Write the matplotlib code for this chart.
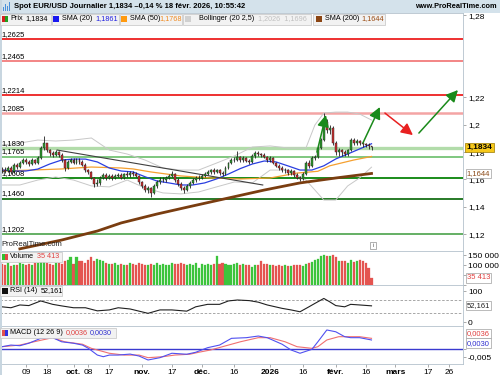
import numpy as np
import pandas as pd
import matplotlib
matplotlib.use('Agg')
import matplotlib.pyplot as plt
from matplotlib.patches import Rectangle

plt.rcParams['font.family'] = ['Liberation Sans', 'DejaVu Sans']

# ---- data (daily EUR/USD, first bar 28 Aug 2025) ----
first_day = '2025-08-28'
first_open = 1.1680
closes = [1.1669, 1.1662, 1.1684, 1.1655, 1.1706, 1.1691, 1.1720, 1.1742, 1.1728, 1.1713,
          1.1742, 1.1720, 1.1757, 1.1830, 1.1866, 1.1815, 1.1793, 1.1779, 1.1801, 1.1779,
          1.1742, 1.1684, 1.1728, 1.1742, 1.1720, 1.1742, 1.1728, 1.1706, 1.1669, 1.1655,
          1.1611, 1.1567, 1.1575, 1.1611, 1.1633, 1.1611, 1.1626, 1.1611, 1.1626, 1.1633,
          1.1611, 1.1640, 1.1633, 1.1647, 1.1640, 1.1626, 1.1582, 1.1553, 1.1523, 1.1538,
          1.1502, 1.1553, 1.1582, 1.1596, 1.1596, 1.1611, 1.1626, 1.1640, 1.1596, 1.1567,
          1.1538, 1.1523, 1.1553, 1.1575, 1.1596, 1.1611, 1.1611, 1.1626, 1.1640, 1.1655,
          1.1669, 1.1655, 1.1669, 1.1647, 1.1640, 1.1684, 1.1720, 1.1742, 1.1742, 1.1764,
          1.1742, 1.1757, 1.1735, 1.1728, 1.1772, 1.1793, 1.1786, 1.1779, 1.1764, 1.1742,
          1.1757, 1.1720, 1.1699, 1.1684, 1.1669, 1.1669, 1.1647, 1.1662, 1.1633, 1.1611,
          1.1604, 1.1640, 1.1720, 1.1699, 1.1757, 1.1764, 1.1830, 1.1888, 1.2020, 1.1961,
          1.1975, 1.1870, 1.1801, 1.1815, 1.1801, 1.1786, 1.1815, 1.1888, 1.1866, 1.1880,
          1.1866, 1.1859, 1.1852, 1.1845, 1.1834]
highs = [1.1690, 1.1688, 1.1700, 1.1695, 1.1718, 1.1722, 1.1735, 1.1758, 1.1760, 1.1740,
         1.1755, 1.1752, 1.1770, 1.1848, 1.1918, 1.1870, 1.1825, 1.1810, 1.1815, 1.1805,
         1.1790, 1.1750, 1.1740, 1.1760, 1.1755, 1.1760, 1.1755, 1.1740, 1.1720, 1.1680,
         1.1665, 1.1620, 1.1600, 1.1625, 1.1650, 1.1645, 1.1640, 1.1640, 1.1640, 1.1650,
         1.1645, 1.1650, 1.1660, 1.1660, 1.1662, 1.1655, 1.1635, 1.1590, 1.1565, 1.1555,
         1.1545, 1.1565, 1.1595, 1.1615, 1.1620, 1.1625, 1.1640, 1.1660, 1.1650, 1.1610,
         1.1580, 1.1555, 1.1565, 1.1590, 1.1610, 1.1625, 1.1630, 1.1640, 1.1655, 1.1670,
         1.1680, 1.1685, 1.1680, 1.1680, 1.1665, 1.1695, 1.1730, 1.1755, 1.1765, 1.1805,
         1.1775, 1.1770, 1.1765, 1.1750, 1.1785, 1.1805, 1.1805, 1.1795, 1.1790, 1.1770,
         1.1770, 1.1765, 1.1730, 1.1710, 1.1695, 1.1685, 1.1680, 1.1675, 1.1670, 1.1645,
         1.1625, 1.1652, 1.1735, 1.1745, 1.1768, 1.1780, 1.1845, 1.1900, 1.2082, 1.2045,
         1.2000, 1.1990, 1.1880, 1.1830, 1.1825, 1.1812, 1.1825, 1.1905, 1.1905, 1.1895,
         1.1890, 1.1878, 1.1870, 1.1866, 1.1848]
lows = [1.1645, 1.1648, 1.1652, 1.1640, 1.1650, 1.1680, 1.1682, 1.1712, 1.1715, 1.1702,
        1.1705, 1.1710, 1.1715, 1.1750, 1.1815, 1.1800, 1.1772, 1.1762, 1.1770, 1.1765,
        1.1730, 1.1662, 1.1675, 1.1720, 1.1710, 1.1715, 1.1715, 1.1695, 1.1655, 1.1640,
        1.1600, 1.1545, 1.1550, 1.1560, 1.1600, 1.1595, 1.1600, 1.1595, 1.1600, 1.1615,
        1.1600, 1.1600, 1.1620, 1.1620, 1.1625, 1.1615, 1.1570, 1.1540, 1.1510, 1.1500,
        1.1470, 1.1495, 1.1540, 1.1570, 1.1580, 1.1580, 1.1600, 1.1615, 1.1585, 1.1555,
        1.1525, 1.1505, 1.1515, 1.1540, 1.1565, 1.1585, 1.1595, 1.1600, 1.1615, 1.1630,
        1.1640, 1.1640, 1.1645, 1.1635, 1.1625, 1.1635, 1.1675, 1.1710, 1.1725, 1.1735,
        1.1730, 1.1730, 1.1725, 1.1710, 1.1720, 1.1760, 1.1775, 1.1765, 1.1755, 1.1730,
        1.1730, 1.1710, 1.1690, 1.1670, 1.1655, 1.1650, 1.1635, 1.1635, 1.1620, 1.1600,
        1.1588, 1.1598, 1.1635, 1.1685, 1.1690, 1.1740, 1.1755, 1.1820, 1.1880, 1.1940,
        1.1935, 1.1855, 1.1778, 1.1770, 1.1772, 1.1770, 1.1775, 1.1805, 1.1850, 1.1852,
        1.1850, 1.1840, 1.1835, 1.1825, 1.1818]
volume_k = [105, 98, 110, 96, 102, 100, 112, 104, 98, 106,
            100, 108, 112, 120, 118, 110, 104, 100, 108, 112,
            106, 118, 124, 140, 104, 142, 122, 118, 112, 126,
            140, 120, 132, 124, 118, 110, 106, 104, 108, 102,
            104, 100, 98, 110, 104, 102, 112, 106, 100, 98,
            104, 102, 108, 100, 104, 98, 102, 108, 106, 104,
            108, 104, 100, 106, 102, 110, 84, 106, 102, 104,
            102, 106, 146, 104, 108, 106, 100, 102, 104, 108,
            100, 104, 102, 98, 92, 102, 98, 118, 104, 104,
            100, 98, 96, 98, 96, 98, 96, 94, 98, 100,
            100, 96, 104, 110, 116, 124, 132, 145, 150, 146,
            144, 148, 140, 122, 118, 122, 112, 124, 116, 120,
            124, 118, 108, 84, 35.4]

sma20_i = [0, 4, 8, 12, 16, 20, 24, 28, 32, 36, 40, 44, 48, 52, 56, 60, 64,
           68, 72, 76, 80, 84, 88, 92, 96, 100, 104, 108, 112, 116, 120, 124]
sma20 = [1.1669, 1.1662, 1.1662, 1.1676, 1.1713, 1.1742, 1.1749, 1.1749, 1.1728,
         1.1684, 1.1662, 1.1655, 1.1620, 1.1589, 1.1575, 1.1560, 1.1560, 1.1575,
         1.1604, 1.1640, 1.1680, 1.1713, 1.1735, 1.1728, 1.1699, 1.1669, 1.1669,
         1.1700, 1.1750, 1.1786, 1.1823, 1.1861]
sma50_i = [0, 10, 20, 30, 40, 44, 50, 60, 70, 80, 90, 99, 106, 110, 118, 124]
sma50 = [1.1662, 1.1669, 1.1677, 1.1691, 1.1684, 1.1677, 1.1655, 1.1626, 1.1611,
         1.1604, 1.1611, 1.1647, 1.1660, 1.1700, 1.1742, 1.1768]
sma200_i = [6, 20, 32, 40, 52, 64, 76, 88, 100, 112, 124]
sma200 = [1.1094, 1.1158, 1.1224, 1.1283, 1.1348, 1.1407, 1.1465, 1.1523, 1.1575,
          1.1611, 1.1644]
boll_i = [0, 6, 12, 18, 24, 30, 36, 42, 48, 54, 60, 66, 72, 78, 84, 90, 96, 102,
          105, 108, 112, 116, 120, 124]
boll_up = [1.1852, 1.1866, 1.1888, 1.1881, 1.1888, 1.1903, 1.1815, 1.1786, 1.1742,
           1.1684, 1.1669, 1.1669, 1.1720, 1.1772, 1.1837, 1.1845, 1.1830, 1.1830,
           1.1998, 1.2085, 1.2092, 1.2092, 1.2078, 1.2034]
boll_low = [1.1560, 1.1560, 1.1596, 1.1618, 1.1596, 1.1553, 1.1546, 1.1596, 1.1538,
            1.1502, 1.1495, 1.1509, 1.1546, 1.1582, 1.1575, 1.1669, 1.1669, 1.1596,
            1.1523, 1.1450, 1.1450, 1.1553, 1.1611, 1.1690]

rsi_i = [0, 3, 6, 9, 13, 17, 20, 24, 28, 32, 36, 39, 43, 46, 49, 53, 57, 62, 65,
         69, 73, 76, 79, 83, 86, 89, 94, 97, 100, 103, 105, 108, 110, 112, 115,
         117, 120, 124]
rsi = [49, 46, 55, 53, 68, 57, 52, 46, 46, 36, 39, 46, 42, 35, 28, 39, 39, 35, 49,
       57, 57, 68, 71, 69, 64, 55, 44, 39, 33, 49, 60, 76, 65, 53, 49, 57, 55, 52.161]

macd_i = [0, 3, 6, 9, 13, 17, 20, 24, 27, 29, 32, 34, 36, 39, 43, 46, 49, 53, 57,
          62, 65, 69, 73, 77, 82, 86, 89, 94, 97, 100, 104, 106, 109, 112, 115,
          117, 120, 124]
macd = [0.0011, 0.0021, 0.0017, 0.0032, 0.0062, 0.0066, 0.0041, 0.0032, 0.0021,
        0.0001, -0.0040, -0.0050, -0.0040, -0.0040, -0.0034, -0.0046, -0.0070,
        -0.0056, -0.0029, -0.0035, -0.0023, 0.0005, 0.0021, 0.0062, 0.0066, 0.0076,
        0.0066, 0.0026, -0.0009, -0.0029, -0.0005, 0.0041, 0.0113, 0.0102, 0.0072,
        0.0066, 0.0066, 0.0052]
signal_i = [0, 6, 10, 17, 21, 27, 30, 36, 41, 46, 49, 54, 58, 63, 66, 70, 76, 80,
            86, 90, 95, 99, 104, 106, 109, 113, 117, 120, 124]
signal = [0.0011, 0.0021, 0.0038, 0.0066, 0.0041, 0.0026, 0.0001, -0.0029, -0.0040,
          -0.0040, -0.0056, -0.0050, -0.0040, -0.0035, -0.0023, -0.0009, 0.0021,
          0.0041, 0.0066, 0.0066, 0.0041, 0.0011, 0.0001, 0.0011, 0.0052, 0.0072,
          0.0072, 0.0072, 0.0062]

levels = [1.2625, 1.2465, 1.2214, 1.2085, 1.1830, 1.1765, 1.1608, 1.1460, 1.1202]
level_labels = ['1,2625', '1,2465', '1,2214', '1,2085', '1,1830', '1,1765', '1,1608',
                '1,1460', '1,1202']
level_colors = ['#ee3030', '#f06464', '#ee3030', '#f4a4a4', '#b2dcaa', '#5cb85c',
                '#1a8c1a', '#167016', '#3a9a3a']
level_widths = [1.4, 1.1, 1.4, 1.8, 2.4, 1.1, 1.4, 1.3, 1.1]

trend_i = [18.5, 87.5]
trend_p = [1.1815, 1.1560]

# arrows: (start index, start price, end index, end price, colour)
arrows = [(105.7, 1.1800, 108.7, 1.2071, '#1a8a1a'),
          (121.1, 1.1866, 126.8, 1.2129, '#1a8a1a'),
          (128.5, 1.2085, 137.9, 1.1924, '#e82020'),
          (139.9, 1.1939, 153.0, 1.2253, '#1a8a1a')]

tick_days = ['2025-09-09', '2025-09-18', '2025-10-01', '2025-10-08', '2025-10-17',
             '2025-11-03', '2025-11-17', '2025-12-01', '2025-12-16', '2026-01-01',
             '2026-01-16', '2026-02-02', '2026-02-16', '2026-03-02', '2026-03-17',
             '2026-03-26']
tick_text = ['09', '18', 'oct.', '08', '17', 'nov.', '17', 'déc.', '16', '2026',
             '16', 'févr.', '16', 'mars', '17', '26']
tick_bold = ['oct.', 'nov.', 'déc.', '2026', 'févr.', 'mars']

# ---- layout helpers (pixels of the 500x375 picture) ----
W, H = 500, 375


def box(x0, y0, x1, y1):
    return [x0 / W, 1 - y1 / H, (x1 - x0) / W, (y1 - y0) / H]


def prect(x0, y0, x1, y1, fc, ec='none', lw=0.5, z=5):
    fig.add_artist(Rectangle((x0 / W, 1 - y1 / H), (x1 - x0) / W, (y1 - y0) / H,
                             transform=fig.transFigure, fc=fc, ec=ec, lw=lw, zorder=z))


def ptext(x, y, s, **kw):
    kw.setdefault('fontsize', 5.2)
    kw.setdefault('va', 'center')
    fig.text(x / W, 1 - y / H, s, zorder=10, **kw)


fig = plt.figure(figsize=(5, 3.75), dpi=100)
ax = fig.add_axes(box(0, 13, 463, 251))
axv = fig.add_axes(box(0, 251, 463, 285))
axr = fig.add_axes(box(0, 285, 463, 326))
axm = fig.add_axes(box(0, 326, 463, 364))

x = np.arange(len(closes))
opens = np.array([first_open] + closes[:-1])
c = np.array(closes)
up = c >= opens
xmin, xmax = -0.67, 154.7

for a in (ax, axv, axr, axm):
    a.set_xlim(xmin, xmax)
    a.yaxis.tick_right()
    a.tick_params(axis='y', direction='out', length=2, width=0.5, color='#888888',
                  labelsize=6, pad=1.5)
    a.tick_params(axis='x', bottom=False, labelbottom=False)
    a.spines['left'].set_visible(False)
    for s in ('top', 'bottom', 'right'):
        a.spines[s].set_color('#b4c2cc')
        a.spines[s].set_linewidth(0.6)

# ---- price panel ----
ax.set_ylim(1.10781, 1.28153)
for lv, lc, lw, lab in zip(levels, level_colors, level_widths, level_labels):
    ax.axhline(lv, color=lc, lw=lw, zorder=1)
    ax.annotate(lab, (0.004, lv), xycoords=('axes fraction', 'data'),
                xytext=(0, 1), textcoords='offset points', fontsize=5.5,
                va='bottom', ha='left', zorder=6)

ax.plot(boll_i, boll_up, color='#c8c8c8', lw=0.7, zorder=2)
ax.plot(boll_i, boll_low, color='#c8c8c8', lw=0.7, zorder=2)
ax.plot(sma200_i, sma200, color='#7a3d10', lw=2.0, zorder=3)
ax.plot(sma50_i, sma50, color='#f5a030', lw=0.9, zorder=3)
ax.plot(sma20_i, sma20, color='#2a3ee0', lw=0.9, zorder=3)
ax.plot(trend_i, trend_p, color='#404040', lw=0.8, zorder=3)

ax.vlines(x, lows, highs, color='#202020', lw=0.6, zorder=4)
body = np.maximum(np.abs(c - opens), 0.0002)
ax.bar(x, body, bottom=np.minimum(c, opens), width=0.65,
       color=np.where(up, '#2c9a2c', '#c83030'), edgecolor='#202020', lw=0.3, zorder=5)

for x0, p0, x1, p1, col in arrows:
    ax.annotate('', xy=(x1, p1), xytext=(x0, p0),
                arrowprops=dict(arrowstyle='-|>,head_length=0.7,head_width=0.35',
                                color=col, lw=1.1, shrinkA=0, shrinkB=0,
                                mutation_scale=10), zorder=7)

ax.set_yticks([1.12, 1.14, 1.16, 1.18, 1.2, 1.22, 1.28])
ax.set_yticklabels(['1,12', '1,14', '1,16', '1,18', '1,2', '1,22', '1,28'])
ax.text(1.008, closes[-1], '1,1834', transform=ax.get_yaxis_transform(),
        fontsize=6, fontweight='bold', va='center', ha='left', clip_on=False, zorder=10,
        bbox=dict(boxstyle='square,pad=0.15', fc='#f6c81a', ec='#9a7a00', lw=0.5))
ax.text(1.008, sma200[-1], '1,1644', transform=ax.get_yaxis_transform(),
        fontsize=5.5, color='#8b4a18', va='center', ha='left', clip_on=False, zorder=10,
        bbox=dict(boxstyle='square,pad=0.15', fc='white', ec='#a0a0a0', lw=0.5))
ax.text(0.004, 0.012, 'ProRealTime.com', transform=ax.transAxes, fontsize=5.5,
        color='#202020', va='bottom')

# ---- volume panel ----
axv.set_ylim(0, 170000)
vol = np.array(volume_k) * 1000
vcol = np.where(up, '#3cc43c', '#e45450')
axv.bar(x, vol, width=0.7, color=vcol, edgecolor=vcol, lw=0.2)
axv.set_yticks([0, 50000, 100000, 150000])
axv.set_yticklabels(['', '', '100 000', '150 000'])
axv.text(1.008, vol[-1], '35 413', transform=axv.get_yaxis_transform(), fontsize=5.5,
         color='#e04040', va='center', ha='left', clip_on=False, zorder=10,
         bbox=dict(boxstyle='square,pad=0.15', fc='white', ec='#a0a0a0', lw=0.5))

# ---- RSI panel ----
axr.set_ylim(-12.9, 119.4)
axr.axhline(70, color='#999999', lw=0.6, ls=(0, (3, 2)))
axr.axhline(30, color='#999999', lw=0.6, ls=(0, (3, 2)))
axr.plot(rsi_i, rsi, color='#202020', lw=0.8)
axr.set_yticks([0, 100])
axr.set_yticklabels(['0', '100'])
axr.text(1.008, rsi[-1], '52,161', transform=axr.get_yaxis_transform(), fontsize=5.5,
         color='#202020', va='center', ha='left', clip_on=False, zorder=10,
         bbox=dict(boxstyle='square,pad=0.15', fc='white', ec='#a0a0a0', lw=0.5))

# ---- MACD panel ----
axm.set_ylim(-0.00945, 0.01372)
axm.axhline(0, color='#3a3ad0', lw=1.0)
axm.plot(signal_i, signal, color='#f07070', lw=0.8)
axm.plot(macd_i, macd, color='#5050f0', lw=0.8)
axm.set_yticks([-0.005, 0])
axm.set_yticklabels(['-0,005', ''])
axm.text(1.008, 0.80, '0,0036', transform=axm.transAxes, fontsize=5.5,
         color='#e04040', va='center', ha='left', clip_on=False, zorder=10,
         bbox=dict(boxstyle='square,pad=0.15', fc='white', ec='#a0a0a0', lw=0.5))
axm.text(1.008, 0.55, '0,0030', transform=axm.transAxes, fontsize=5.5,
         color='#3030d0', va='center', ha='left', clip_on=False, zorder=10,
         bbox=dict(boxstyle='square,pad=0.15', fc='white', ec='#a0a0a0', lw=0.5))

# date axis
dates = pd.bdate_range(first_day, periods=160)
tpos = [dates.get_loc(pd.Timestamp(d)) for d in tick_days]
axm.set_xticks(tpos)
axm.set_xticklabels(tick_text)
axm.tick_params(axis='x', bottom=True, labelbottom=True, length=2, width=0.5,
                color='#888888', labelsize=6, pad=1.5)
for lab in axm.get_xticklabels():
    if lab.get_text() in tick_bold:
        lab.set_fontweight('bold')

# ---- header and legends ----
prect(0, 0, 500, 13, '#d4e2eb', z=1)
prect(0, 12.5, 500, 13, '#b4c2cc', z=2)
prect(0, 0, 1.5, 375, '#c8d6e0', z=2)
for k, hgt in enumerate([4, 7, 5, 9]):
    prect(3 + k * 2, 11 - hgt, 4.3 + k * 2, 11, '#4a90d9', z=6)
ptext(14, 6.5, 'Spot EUR/USD Journalier 1,1834 \u20130,14 % 18 févr. 2026, 10:55:42',
      fontsize=5.5, fontweight='bold')
ptext(497, 6.5, 'www.ProRealTime.com', fontsize=5.3, fontweight='bold', ha='right')

for x0, x1 in [(0, 51), (52, 119), (120, 182), (183, 311), (313, 385)]:
    prect(x0, 13.5, x1, 24.5, '#f2f2f2', ec='#c4c4c4', z=6)
prect(1.5, 16, 4.5, 22, '#d42020', z=7)
prect(4.5, 16, 7.5, 22, '#20a020', z=7)
ptext(10, 19, 'Prix')
ptext(25, 19, '1,1834')
prect(53, 16, 59, 22, '#1818f0', z=7)
ptext(62, 19, 'SMA (20)')
ptext(95, 19, '1,1861', color='#2020e0')
prect(121, 16, 127, 22, '#ff9a10', z=7)
ptext(130, 19, 'SMA (50)')
ptext(159, 19, '1,1768', color='#f08a20')
prect(185, 16, 191, 22, '#d0d0d0', z=7)
ptext(199, 19, 'Bollinger (20 2,5)')
ptext(258, 19, '1,2026  1,1696', color='#c0c0c0')
prect(316, 16, 322, 22, '#8b4513', z=7)
ptext(325, 19, 'SMA (200)')
ptext(361, 19, '1,1644', color='#9a4a10')

# info icon
prect(370, 242, 376, 249, 'white', ec='#909090', z=8)
ptext(373, 245.5, 'i', fontsize=4.5, ha='center', color='#606060')

# panel legends
prect(0, 252, 62, 262, '#f2f2f2', ec='#c4c4c4', z=6)
prect(1.5, 254, 4.5, 260, '#30c030', z=7)
prect(4.5, 254, 7.5, 260, '#e04848', z=7)
ptext(10, 257, 'Volume')
ptext(37, 257, '35 413', color='#e04040')
prect(0, 286, 62, 296, '#f2f2f2', ec='#c4c4c4', z=6)
prect(1.5, 288, 7.5, 294, '#101010', z=7)
ptext(10, 291, 'RSI (14)')
ptext(41, 291, '52,161')
prect(0, 327.5, 116, 338, '#f2f2f2', ec='#c4c4c4', z=6)
prect(1.5, 330, 4.5, 336, '#e05050', z=7)
prect(4.5, 330, 7.5, 336, '#3030e0', z=7)
ptext(10, 333, 'MACD (12 26 9)')
ptext(66, 333, '0,0036', color='#e04040')
ptext(90, 333, '0,0030', color='#3030d0')

fig.savefig('out.png', dpi=100)
